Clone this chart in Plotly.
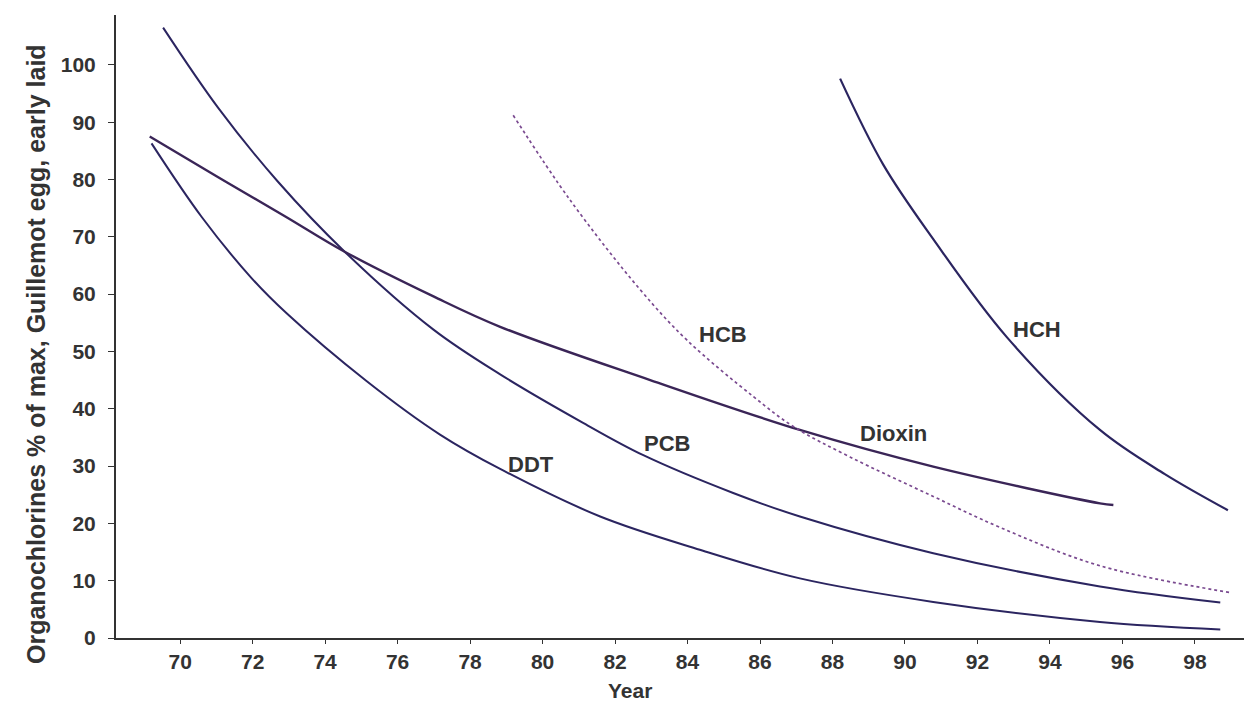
import plotly.graph_objects as go

# ---- data ----
ddt_years = [69.21, 70.59, 71.97, 72.93, 75.15, 77.17, 78.83, 81.59, 84.34, 87.10, 90.78, 95.38, 98.70]
ddt_vals = [86.3, 73.5, 62.8, 56.7, 44.8, 35.5, 29.5, 21.2, 15.4, 10.4, 6.3, 2.8, 1.5]

pcb_years = [69.53, 71.05, 72.70, 74.54, 76.99, 78.83, 81.13, 82.78, 85.26, 87.10, 90.78, 95.38, 98.70]
pcb_vals = [106.5, 92.5, 79.6, 67.4, 53.8, 46.0, 37.5, 31.9, 25.3, 21.2, 14.8, 9.0, 6.2]

dioxin_years = [69.16, 71.05, 72.89, 74.54, 76.99, 78.83, 82.97, 87.10, 90.78, 95.38, 95.75]
dioxin_vals = [87.5, 80.4, 73.6, 67.4, 59.6, 54.3, 45.0, 36.3, 29.9, 23.5, 23.2]

hcb_years = [79.19, 80.76, 82.69, 83.98, 85.82, 86.92, 88.48, 90.78, 92.62, 95.38, 99.01]
hcb_vals = [91.2, 76.4, 60.8, 52.0, 42.1, 36.9, 31.6, 24.7, 19.3, 12.6, 7.9]

hch_years = [88.21, 89.40, 90.78, 92.81, 95.38, 97.17, 98.91]
hch_vals = [97.6, 82.6, 69.6, 52.5, 36.3, 28.6, 22.3]

series_labels = ["DDT", "PCB", "HCB", "Dioxin", "HCH"]
label_years = [79.68, 83.43, 84.99, 89.68, 93.65]
label_vals = [30.2, 33.9, 52.9, 35.6, 53.9]

x_ticks = list(range(70, 100, 2))
y_ticks = list(range(0, 101, 10))

# ---- figure ----
FONT = "Liberation Sans"
TXT = "#333333"
dark = "#2b2560"
fig = go.Figure()
for yrs, vals, col, w, dash in [
    (ddt_years, ddt_vals, dark, 2, "solid"),
    (pcb_years, pcb_vals, dark, 2, "solid"),
    (dioxin_years, dioxin_vals, "#3a2557", 2.4, "solid"),
    (hcb_years, hcb_vals, "#7a4a90", 1.7, "dot"),
    (hch_years, hch_vals, dark, 2.2, "solid"),
]:
    fig.add_trace(go.Scatter(x=yrs, y=vals, mode="lines",
                             line=dict(color=col, width=w, dash=dash, shape="spline", smoothing=1.0),
                             showlegend=False, hoverinfo="skip"))

for t, xv, yv in zip(series_labels, label_years, label_vals):
    fig.add_annotation(x=xv, y=yv, xref="x", yref="y", text=t, showarrow=False,
                       xanchor="center", yanchor="middle",
                       font=dict(family=FONT, size=22, color=TXT, weight="bold"))

# page geometry (the html body adds an 8px margin)
W, H = 1244, 699
ml, mr, mt, mb = 108, 2, 7, 69
pw, ph = W - ml - mr, H - mt - mb
x0_page, yb_page = 8 + ml, 8 + mt + ph


def px(xp):
    return (xp - x0_page) / pw


def py(yp):
    return (yb_page - yp) / ph


fig.add_annotation(x=px(36), y=py(354), xref="paper", yref="paper",
                   xanchor="center", yanchor="middle",
                   text="Organochlorines % of max, Guillemot egg, early laid",
                   showarrow=False, textangle=-90,
                   font=dict(family=FONT, size=25, color=TXT, weight="bold"))
fig.add_annotation(x=px(630), y=py(690), xref="paper", yref="paper", text="Year", showarrow=False,
                   xanchor="center", yanchor="middle",
                   font=dict(family=FONT, size=21, color=TXT, weight="bold"))

fig.update_layout(
    width=W, height=H,
    margin=dict(l=ml, r=mr, t=mt, b=mb, autoexpand=False),
    paper_bgcolor="white", plot_bgcolor="white",
    xaxis=dict(range=[68.23, 99.52], tickvals=x_ticks, ticktext=[str(v) for v in x_ticks],
               showgrid=False, zeroline=False, showline=True, linecolor=TXT, linewidth=2,
               ticks="outside", ticklen=4, tickcolor=TXT,
               tickfont=dict(family=FONT, size=21, color=TXT, weight="bold")),
    yaxis=dict(range=[0, 108.7], tickvals=y_ticks, showgrid=False, zeroline=False,
               showline=True, linecolor=TXT, linewidth=2,
               ticks="outside", ticklen=6, tickcolor=TXT, ticklabelstandoff=8,
               tickfont=dict(family=FONT, size=21, color=TXT, weight="bold")),
)

fig.write_html("out.html")
